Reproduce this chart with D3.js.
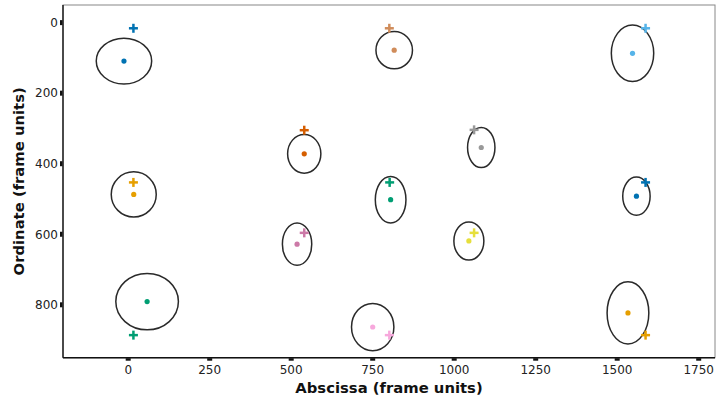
<!DOCTYPE html>
<html>
<head>
<meta charset="utf-8">
<script src="https://cdn.jsdelivr.net/npm/d3@7"></script>
<style>
  body { margin: 0; background: #fff; }
  text { font-family: "DejaVu Sans", sans-serif; }
</style>
</head>
<body>
<div id="chart"></div>
<script>
// tracked objects: measured centre (dot), fitted ellipse, and predicted point (cross)
const colors = ['#0072B2', '#D08C5A', '#56B4E9', '#D55E00', '#999999', '#E69F00', '#009E73',
  '#0072B2', '#CC79A7', '#E6DF3C', '#009E73', '#F7A8DC', '#E69F00'];
const dotX = [-13, 816, 1547, 540, 1083, 17, 805, 1559, 518, 1045, 58, 750, 1533];
const dotY = [109, 78, 87, 372, 354, 487, 502, 492, 628, 619, 791, 863, 823];
const ellRx = [85, 56, 65, 51, 42, 69, 47, 42, 45, 46, 96, 65, 64];
const ellRy = [65, 53, 80, 55, 57, 64, 66, 54, 60, 54, 80, 67, 88];
const crossX = [16, 801, 1587, 540, 1061, 16, 802, 1587, 540, 1061, 16, 801, 1587];
const crossY = [16, 16, 16, 305, 304, 453, 453, 453, 596, 596, 886, 886, 886];
const xTicks = [0, 250, 500, 750, 1000, 1250, 1500, 1750];
const yTicks = [0, 200, 400, 600, 800];

const size = { width: 717, height: 397 };
const margin = { left: 63, right: 2, top: 5, bottom: 39.3 };

const svg = d3.select('#chart').append('svg')
  .attr('width', size.width)
  .attr('height', size.height);

const x = d3.scaleLinear().domain([-200, 1800]).range([margin.left, size.width - margin.right]);
const y = d3.scaleLinear().domain([-50, 950]).range([margin.top, size.height - margin.bottom]);

// frame (top/right thin grey)
svg.append('rect')
  .attr('x', x(-200)).attr('y', y(-50))
  .attr('width', x(1800) - x(-200)).attr('height', y(950) - y(-50))
  .attr('fill', 'none').attr('stroke', '#888').attr('stroke-width', 1);

// left and bottom axis lines
svg.append('line')
  .attr('x1', x(-200)).attr('x2', x(-200)).attr('y1', y(-50)).attr('y2', y(950))
  .attr('stroke', '#222').attr('stroke-width', 1.5);
svg.append('line')
  .attr('x1', x(-200)).attr('x2', x(1800)).attr('y1', y(950)).attr('y2', y(950))
  .attr('stroke', '#111').attr('stroke-width', 1.5);

// ticks
const base = y(950);
svg.append('g').selectAll('rect').data(xTicks).enter().append('rect')
  .attr('x', (d) => x(d) - 2.5).attr('y', base + 0.5)
  .attr('width', 5).attr('height', 2.5).attr('fill', '#111');
svg.append('g').selectAll('text').data(xTicks).enter().append('text')
  .attr('x', (d) => x(d)).attr('y', base + 16)
  .attr('text-anchor', 'middle').attr('font-size', 12).attr('fill', '#222')
  .text((d) => d);

svg.append('g').selectAll('rect').data(yTicks).enter().append('rect')
  .attr('x', x(-200) - 3).attr('y', (d) => y(d) - 2.5)
  .attr('width', 2.5).attr('height', 5).attr('fill', '#111');
svg.append('g').selectAll('text').data(yTicks).enter().append('text')
  .attr('x', x(-200) - 5).attr('y', (d) => y(d) + 4.3)
  .attr('text-anchor', 'end').attr('font-size', 12).attr('fill', '#222')
  .text((d) => d);

// axis titles
svg.append('text')
  .attr('x', (x(-200) + x(1800)) / 2).attr('y', 393)
  .attr('text-anchor', 'middle').attr('font-size', 14.8).attr('font-weight', 'bold')
  .attr('fill', '#111').text('Abscissa (frame units)');
svg.append('text')
  .attr('transform', `translate(24,${(y(-50) + y(950)) / 2}) rotate(-90)`)
  .attr('text-anchor', 'middle').attr('font-size', 14.8).attr('font-weight', 'bold')
  .attr('fill', '#111').text('Ordinate (frame units)');

const idx = d3.range(dotX.length);

// ellipses
svg.append('g').selectAll('ellipse').data(idx).enter().append('ellipse')
  .attr('cx', (i) => x(dotX[i])).attr('cy', (i) => y(dotY[i]))
  .attr('rx', (i) => x(ellRx[i]) - x(0)).attr('ry', (i) => y(ellRy[i]) - y(0))
  .attr('fill', 'none').attr('stroke', '#2a2a2a').attr('stroke-width', 1.5);

// dots
svg.append('g').selectAll('circle').data(idx).enter().append('circle')
  .attr('cx', (i) => x(dotX[i])).attr('cy', (i) => y(dotY[i]))
  .attr('r', 2.6).attr('fill', (i) => colors[i]);

// crosses
const cg = svg.append('g');
idx.forEach((i) => {
  const cx = x(crossX[i]);
  const cy = y(crossY[i]);
  cg.append('line').attr('x1', cx - 4.5).attr('x2', cx + 4.5).attr('y1', cy).attr('y2', cy)
    .attr('stroke', colors[i]).attr('stroke-width', 2.5);
  cg.append('line').attr('x1', cx).attr('x2', cx).attr('y1', cy - 4.5).attr('y2', cy + 4.5)
    .attr('stroke', colors[i]).attr('stroke-width', 2.5);
});
</script>
</body>
</html>
